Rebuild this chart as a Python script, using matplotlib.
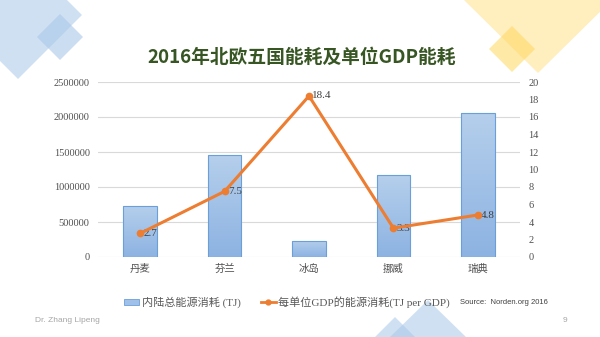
import numpy as np
import matplotlib.pyplot as plt
from matplotlib.patches import Polygon, Patch
from matplotlib.lines import Line2D
from matplotlib.colors import LinearSegmentedColormap

plt.rcParams['font.family'] = ['Liberation Serif', 'Noto Sans CJK SC']

countries = ['丹麦', '芬兰', '冰岛', '挪威', '瑞典']
energy_tj = [731000, 1453000, 229000, 1167000, 2063000]
energy_per_gdp = [2.7, 7.5, 18.4, 3.3, 4.8]
left_ticks = [0, 500000, 1000000, 1500000, 2000000, 2500000]
right_ticks = [0, 2, 4, 6, 8, 10, 12, 14, 16, 18, 20]

W, H = 600, 337
fig = plt.figure(figsize=(W / 100, H / 100), dpi=100)

# background decorations in pixel coordinates
deco = fig.add_axes([0, 0, 1, 1])
deco.set_xlim(0, W)
deco.set_ylim(H, 0)
deco.axis('off')

def shape(pts, color, alpha):
    deco.add_patch(Polygon(pts, closed=True, facecolor=color, edgecolor='none', alpha=alpha))

# top-left blue diamonds
shape([(32, -35), (82, 15), (18, 79), (-32, 29)], '#a9c8e8', 0.55)
shape([(60, 14), (83, 37), (60, 60), (37, 37)], '#a9c8e8', 0.6)
# top-right yellow triangle and diamond
shape([(464, 0), (612, 0), (538, 73)], '#ffe08a', 0.55)
shape([(512, 26), (535, 49), (512, 72), (489, 49)], '#ffd75e', 0.55)
# bottom blue triangles
shape([(428, 300), (466, 337), (390, 337)], '#a9c8e8', 0.55)
shape([(395, 317), (415, 337), (375, 337)], '#a9c8e8', 0.55)

ax = fig.add_axes([98 / W, 1 - 257 / H, 422 / W, 175 / H])
x = np.arange(len(countries))
bars = ax.bar(x, energy_tj, width=0.40, facecolor='none', edgecolor='#6b9fd9', linewidth=0.8, zorder=3)

# vertical gradient fill for the bars
grad = np.linspace(0, 1, 100).reshape(-1, 1)
cmap = LinearSegmentedColormap.from_list('bar', ['#8db3e2', '#b5cfec'])
for b in bars:
    x0, y0 = b.get_x(), b.get_y()
    im = ax.imshow(grad, cmap=cmap, origin='lower', aspect='auto',
                   extent=[x0, x0 + b.get_width(), y0, y0 + b.get_height()], zorder=2)
    im.set_clip_path(b)

ax.set_xlim(-0.5, len(countries) - 0.5)
ax.set_ylim(0, 2500000)
ax.set_yticks(left_ticks)
ax.set_yticklabels([str(v) for v in left_ticks])
ax.set_xticks(x)
ax.set_xticklabels(countries, family='Noto Sans CJK SC')
ax.grid(axis='y', color='#d9d9d9', linewidth=0.8, zorder=0)
ax.set_axisbelow(True)
for s in ax.spines.values():
    s.set_visible(False)
ax.tick_params(length=0, labelsize=7.5, colors='#505050', pad=6)
ax.tick_params(axis='x', labelsize=7.5, pad=5)

ax2 = ax.twinx()
ax2.plot(x, energy_per_gdp, color='#ed7d31', linewidth=2.2, marker='o', markersize=4.5, zorder=5)
ax2.set_ylim(0, 20)
ax2.set_yticks(right_ticks)
for s in ax2.spines.values():
    s.set_visible(False)
ax2.tick_params(length=0, labelsize=7.5, colors='#505050', pad=6)
for xi, v in zip(x, energy_per_gdp):
    ax2.text(xi + 0.04, v, str(v), fontsize=8, color='#404040', va='center', ha='left')

fig.text(0.503, 1 - 57 / H, '2016年北欧五国能耗及单位GDP能耗', ha='center', va='center',
         fontsize=13.5, fontweight='bold', color='#375623',
         family=['Noto Sans CJK SC', 'DejaVu Sans'])

handles = [Patch(facecolor='#9fc0e8', edgecolor='#6b9fd9', linewidth=0.6),
           Line2D([0], [0], color='#ed7d31', linewidth=2, marker='o', markersize=3.5)]
labels = ['内陆总能源消耗 (TJ)', '每单位GDP的能源消耗(TJ per GDP)']
leg = fig.legend(handles, labels, loc='center', bbox_to_anchor=(287 / W, 1 - 302 / H), ncol=2,
                 frameon=False, fontsize=8, handlelength=1.4, handleheight=0.45,
                 handletextpad=0.2, columnspacing=1.8, labelcolor='#595959')

fig.text(460 / W, 1 - 302 / H, 'Source:  Norden.org 2016', fontsize=5.5, color='#404040',
         family='Liberation Sans', va='center')
fig.text(35 / W, 1 - 321 / H, 'Dr. Zhang Lipeng', fontsize=6, color='#a6a6a6',
         family='Liberation Sans', va='center')
fig.text(563 / W, 1 - 321 / H, '9', fontsize=6, color='#a6a6a6',
         family='Liberation Sans', va='center')

fig.savefig('out.png', dpi=100)
